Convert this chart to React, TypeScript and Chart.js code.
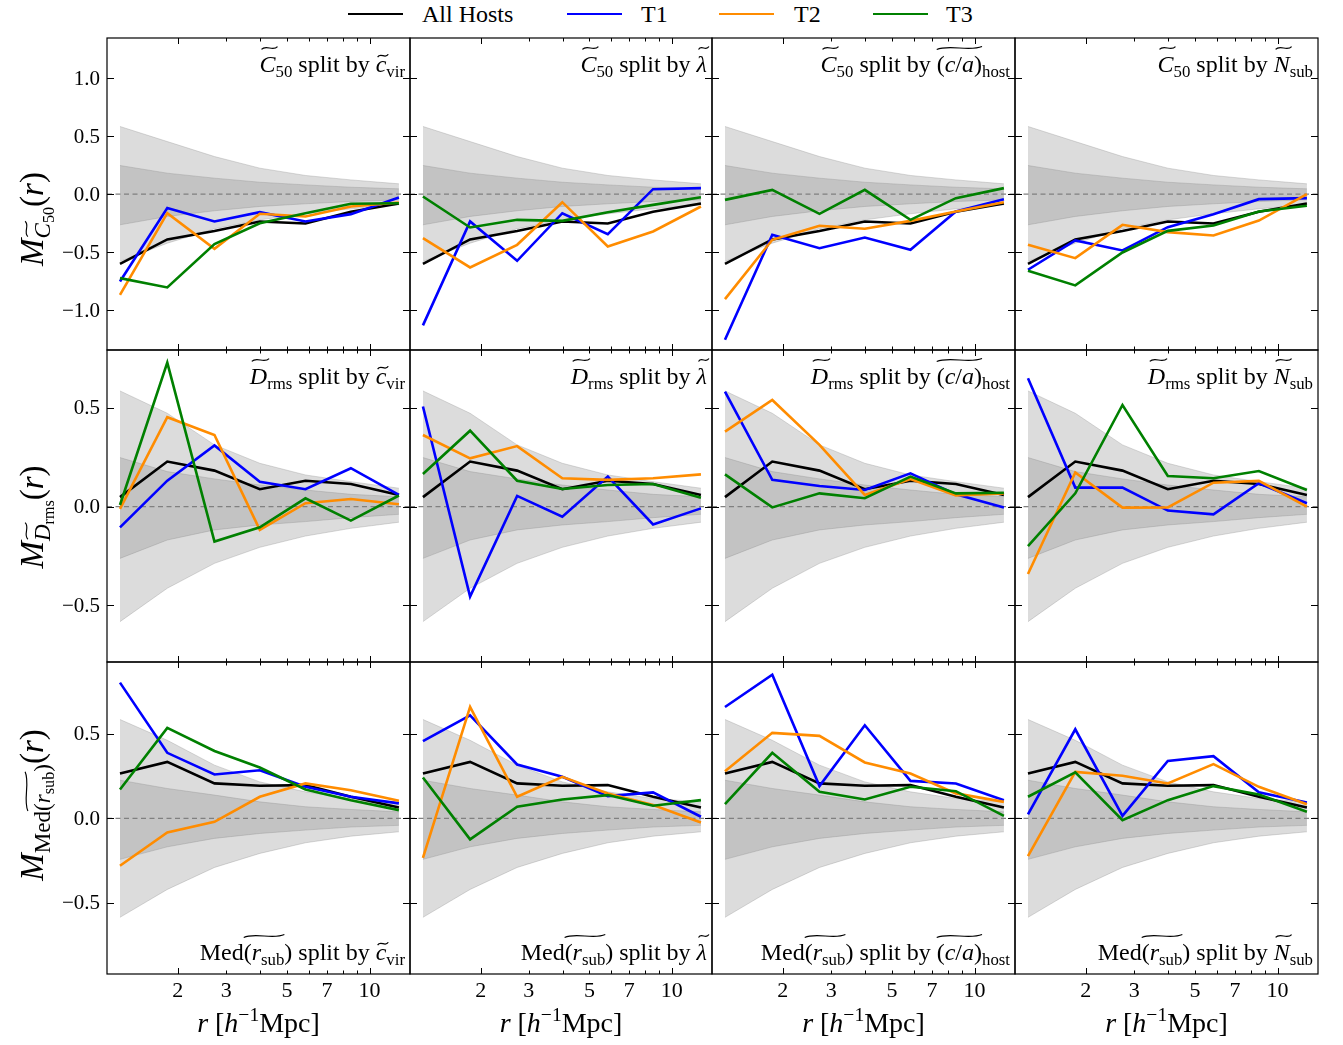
import React, { useEffect, useRef } from "react";
import { Chart, registerables } from "chart.js";
Chart.register(...registerables);

// ---------- data ----------
const R_BINS = [1.23, 1.83, 2.72, 3.98, 5.84, 8.55, 12.8];
const X_TICKS = [2, 3, 4, 5, 6, 7, 8, 9, 10];
const X_TICK_LABELS = [2, 3, 5, 7, 10];
const X_MIN = 1.103;
const X_MAX = 14.05;

const Y_TICKS_C50 = [-1, -0.5, 0, 0.5, 1];
const Y_TICKS_DRMS = [-0.5, 0, 0.5];
const Y_TICKS_MED = [-0.5, 0, 0.5];

// Row 1: C50
const ALL_C50 = [-0.6, -0.39, -0.318, -0.235, -0.252, -0.152, -0.08];
const BAND_OUT_HI_C50 = [0.583, 0.453, 0.324, 0.224, 0.161, 0.123, 0.089];
const BAND_OUT_LO_C50 = [-0.579, -0.422, -0.298, -0.221, -0.169, -0.126, -0.092];
const BAND_IN_HI_C50 = [0.247, 0.181, 0.138, 0.103, 0.08, 0.06, 0.046];
const BAND_IN_LO_C50 = [-0.264, -0.192, -0.143, -0.106, -0.083, -0.063, -0.049];
const C50_CVIR_T1 = [-0.752, -0.12, -0.235, -0.155, -0.235, -0.172, -0.029];
const C50_CVIR_T2 = [-0.867, -0.164, -0.471, -0.169, -0.192, -0.106, -0.072];
const C50_CVIR_T3 = [-0.723, -0.803, -0.43, -0.25, -0.164, -0.083, -0.078];
const C50_LAM_T1 = [-1.13, -0.235, -0.574, -0.164, -0.344, 0.043, 0.052];
const C50_LAM_T2 = [-0.379, -0.631, -0.436, -0.069, -0.45, -0.321, -0.106];
const C50_LAM_T3 = [-0.02, -0.287, -0.221, -0.23, -0.155, -0.092, -0.026];
const C50_CA_T1 = [-1.254, -0.35, -0.465, -0.373, -0.479, -0.149, -0.043];
const C50_CA_T2 = [-0.904, -0.393, -0.272, -0.298, -0.23, -0.149, -0.069];
const C50_CA_T3 = [-0.049, 0.037, -0.169, 0.037, -0.221, -0.034, 0.052];
const C50_NSUB_T1 = [-0.651, -0.399, -0.485, -0.284, -0.172, -0.043, -0.034];
const C50_NSUB_T2 = [-0.436, -0.551, -0.264, -0.327, -0.356, -0.227, 0.0];
const C50_NSUB_T3 = [-0.66, -0.786, -0.502, -0.316, -0.27, -0.149, -0.1];

// Row 2: Drms
const ALL_DRMS = [0.048, 0.228, 0.182, 0.088, 0.131, 0.114, 0.059];
const BAND_OUT_HI_DRMS = [0.585, 0.472, 0.312, 0.219, 0.16, 0.126, 0.093];
const BAND_OUT_LO_DRMS = [-0.582, -0.413, -0.287, -0.206, -0.149, -0.11, -0.079];
const BAND_IN_HI_DRMS = [0.248, 0.177, 0.14, 0.109, 0.084, 0.062, 0.05];
const BAND_IN_LO_DRMS = [-0.262, -0.169, -0.118, -0.093, -0.076, -0.056, -0.039];
const DRMS_CVIR_T1 = [-0.105, 0.131, 0.309, 0.126, 0.088, 0.194, 0.059];
const DRMS_CVIR_T2 = [-0.012, 0.452, 0.362, -0.118, 0.017, 0.038, 0.012];
const DRMS_CVIR_T3 = [0.008, 0.728, -0.177, -0.105, 0.042, -0.071, 0.056];
const DRMS_LAM_T1 = [0.506, -0.455, 0.054, -0.051, 0.152, -0.09, -0.009];
const DRMS_LAM_T2 = [0.362, 0.244, 0.306, 0.143, 0.135, 0.143, 0.163];
const DRMS_LAM_T3 = [0.165, 0.384, 0.131, 0.089, 0.109, 0.114, 0.045];
const DRMS_CA_T1 = [0.582, 0.135, 0.104, 0.084, 0.168, 0.062, -0.005];
const DRMS_CA_T2 = [0.379, 0.539, 0.312, 0.059, 0.14, 0.056, 0.067];
const DRMS_CA_T3 = [0.163, -0.004, 0.067, 0.042, 0.152, 0.067, 0.07];
const DRMS_NSUB_T1 = [0.649, 0.096, 0.096, -0.02, -0.039, 0.118, 0.017];
const DRMS_NSUB_T2 = [-0.341, 0.173, -0.005, -0.004, 0.121, 0.13, 0.0];
const DRMS_NSUB_T3 = [-0.2, 0.067, 0.514, 0.155, 0.143, 0.18, 0.084];

// Row 3: Med(r_sub)
const ALL_MED = [0.266, 0.334, 0.207, 0.193, 0.197, 0.128, 0.065];
const BAND_OUT_HI_MED = [0.585, 0.462, 0.315, 0.216, 0.157, 0.118, 0.098];
const BAND_OUT_LO_MED = [-0.585, -0.42, -0.29, -0.207, -0.144, -0.105, -0.079];
const BAND_IN_HI_MED = [0.226, 0.177, 0.138, 0.098, 0.069, 0.053, 0.039];
const BAND_IN_LO_MED = [-0.242, -0.168, -0.118, -0.089, -0.069, -0.051, -0.041];
const MED_CVIR_T1 = [0.803, 0.388, 0.26, 0.285, 0.187, 0.128, 0.089];
const MED_CVIR_T2 = [-0.28, -0.083, -0.02, 0.128, 0.207, 0.167, 0.104];
const MED_CVIR_T3 = [0.171, 0.535, 0.399, 0.301, 0.171, 0.108, 0.049];
const MED_LAM_T1 = [0.457, 0.61, 0.319, 0.246, 0.132, 0.154, 0.01];
const MED_LAM_T2 = [-0.233, 0.659, 0.128, 0.246, 0.148, 0.079, -0.024];
const MED_LAM_T3 = [0.242, -0.124, 0.069, 0.112, 0.138, 0.075, 0.108];
const MED_CA_T1 = [0.659, 0.85, 0.191, 0.551, 0.222, 0.207, 0.108];
const MED_CA_T2 = [0.279, 0.506, 0.488, 0.331, 0.266, 0.148, 0.098];
const MED_CA_T3 = [0.084, 0.388, 0.157, 0.112, 0.187, 0.161, 0.015];
const MED_NSUB_T1 = [0.024, 0.527, 0.015, 0.34, 0.368, 0.154, 0.094];
const MED_NSUB_T2 = [-0.223, 0.275, 0.252, 0.207, 0.321, 0.187, 0.084];
const MED_NSUB_T3 = [0.128, 0.272, -0.01, 0.108, 0.191, 0.142, 0.039];

const SERIES_NAMES = ["All Hosts", "T1", "T2", "T3"];
const SERIES_COLORS = ["#000000", "#0000ff", "#ff8c00", "#008000"];

// ---------- layout ----------
const XS = [107, 410, 712, 1015, 1318];
const YS = [38, 350, 662, 974];
const Y_RANGES = [
  [-1.342, 1.345],
  [-0.786, 0.792],
  [-0.92, 0.925],
];
const Y_TITLE_CENTERS = [219, 517, 805];
const PL = 107, PR = 12, PT = 10, PB = 75;
const FONT = '"Liberation Serif", "DejaVu Serif", serif';

type Seg = { t: string; i?: boolean; s?: number; p?: boolean; tg?: number; th?: number };

function segSize(seg: Seg, size: number) {
  if (seg.p) return size * 0.7;
  const lvl = seg.s || 0;
  return size * Math.pow(0.7, lvl);
}
function segFont(seg: Seg, size: number) {
  return `${seg.i ? "italic " : ""}${segSize(seg, size)}px ${FONT}`;
}
function drawTilde(ctx: CanvasRenderingContext2D, x0: number, x1: number, y: number, amp: number) {
  const w = x1 - x0;
  ctx.beginPath();
  ctx.moveTo(x0, y + amp);
  ctx.bezierCurveTo(x0 + w * 0.28, y - amp * 2.6, x0 + w * 0.72, y + amp * 2.6, x1, y - amp);
  ctx.stroke();
}
function drawRich(ctx: CanvasRenderingContext2D, segs: Seg[], x: number, y: number, size: number, align: string) {
  let total = 0;
  for (const s of segs) {
    ctx.font = segFont(s, size);
    total += ctx.measureText(s.t).width;
  }
  let cx = align === "right" ? x - total : align === "center" ? x - total / 2 : x;
  ctx.textAlign = "left";
  ctx.textBaseline = "alphabetic";
  const groups: Record<number, { x0: number; x1: number; top: number; italic: boolean; sz: number }> = {};
  for (const s of segs) {
    ctx.font = segFont(s, size);
    const w = ctx.measureText(s.t).width;
    const lvl = s.s || 0;
    let dy = 0;
    if (lvl >= 1) dy += size * 0.2;
    if (lvl >= 2) dy += size * 0.7 * 0.2;
    if (s.p) dy = -size * 0.38;
    ctx.fillText(s.t, cx, y + dy);
    if (s.tg !== undefined) {
      const sz = segSize(s, size);
      const top = y + dy - sz * (s.th ?? 0.85);
      const g = groups[s.tg];
      if (!g) groups[s.tg] = { x0: cx, x1: cx + w, top, italic: !!s.i, sz };
      else {
        g.x1 = cx + w;
        g.top = Math.min(g.top, top);
        g.sz = Math.max(g.sz, sz);
      }
    }
    cx += w;
  }
  for (const k of Object.keys(groups)) {
    const g = groups[Number(k)];
    ctx.lineWidth = Math.max(0.9, g.sz * 0.05);
    const sh = g.italic ? g.sz * 0.08 : 0;
    drawTilde(ctx, g.x0 + sh, g.x1 + sh, g.top - g.sz * 0.08, g.sz * 0.06);
  }
}

const ROW_PREFIX: Seg[][] = [
  [{ t: "C", i: true, tg: 0, th: 0.92 }, { t: "50", s: 1 }],
  [{ t: "D", i: true, tg: 0, th: 0.92 }, { t: "rms", s: 1 }],
  [{ t: "Med" }, { t: "(", tg: 0, th: 0.92 }, { t: "r", i: true, tg: 0 }, { t: "sub", s: 1, tg: 0 }, { t: ")" }],
];
const COL_SUFFIX: Seg[][] = [
  [{ t: "c", i: true, tg: 1, th: 0.6 }, { t: "vir", s: 1 }],
  [{ t: "λ", i: true, tg: 1, th: 0.92 }],
  [{ t: "(", tg: 1, th: 0.92 }, { t: "c", i: true, tg: 1 }, { t: "/", tg: 1 }, { t: "a", i: true, tg: 1 }, { t: ")", tg: 1 }, { t: "host", s: 1 }],
  [{ t: "N", i: true, tg: 1, th: 0.92 }, { t: "sub", s: 1 }],
];
const Y_TITLES: Seg[][] = [
  [{ t: "M", i: true }, { t: "C", i: true, s: 1, tg: 0, th: 0.92 }, { t: "50", s: 2 }, { t: "(" }, { t: "r", i: true }, { t: ")" }],
  [{ t: "M", i: true }, { t: "D", i: true, s: 1, tg: 0, th: 0.92 }, { t: "rms", s: 2 }, { t: "(" }, { t: "r", i: true }, { t: ")" }],
  [{ t: "M", i: true }, { t: "Med", s: 1 }, { t: "(", s: 1, tg: 0, th: 0.92 }, { t: "r", i: true, s: 1, tg: 0 }, { t: "sub", s: 2, tg: 0 }, { t: ")", s: 1 }, { t: "(" }, { t: "r", i: true }, { t: ")" }],
];
const X_TITLE: Seg[] = [{ t: "r", i: true }, { t: " [" }, { t: "h", i: true }, { t: "−1", p: true }, { t: "Mpc]" }];

const ROW_Y_TICKS = [Y_TICKS_C50, Y_TICKS_DRMS, Y_TICKS_MED];
const ROW_ALL = [ALL_C50, ALL_DRMS, ALL_MED];
const ROW_BANDS = [
  [BAND_OUT_HI_C50, BAND_OUT_LO_C50, BAND_IN_HI_C50, BAND_IN_LO_C50],
  [BAND_OUT_HI_DRMS, BAND_OUT_LO_DRMS, BAND_IN_HI_DRMS, BAND_IN_LO_DRMS],
  [BAND_OUT_HI_MED, BAND_OUT_LO_MED, BAND_IN_HI_MED, BAND_IN_LO_MED],
];
const PANEL_SERIES = [
  [
    [C50_CVIR_T1, C50_CVIR_T2, C50_CVIR_T3],
    [C50_LAM_T1, C50_LAM_T2, C50_LAM_T3],
    [C50_CA_T1, C50_CA_T2, C50_CA_T3],
    [C50_NSUB_T1, C50_NSUB_T2, C50_NSUB_T3],
  ],
  [
    [DRMS_CVIR_T1, DRMS_CVIR_T2, DRMS_CVIR_T3],
    [DRMS_LAM_T1, DRMS_LAM_T2, DRMS_LAM_T3],
    [DRMS_CA_T1, DRMS_CA_T2, DRMS_CA_T3],
    [DRMS_NSUB_T1, DRMS_NSUB_T2, DRMS_NSUB_T3],
  ],
  [
    [MED_CVIR_T1, MED_CVIR_T2, MED_CVIR_T3],
    [MED_LAM_T1, MED_LAM_T2, MED_LAM_T3],
    [MED_CA_T1, MED_CA_T2, MED_CA_T3],
    [MED_NSUB_T1, MED_NSUB_T2, MED_NSUB_T3],
  ],
];

const pts = (vals: number[]) => vals.map((v, i) => ({ x: R_BINS[i], y: v }));
const fmt = (v: number) => (v < 0 ? "−" : "") + Math.abs(v).toFixed(1);

function Panel({ row, col }: { row: number; col: number }) {
  const ref = useRef<HTMLCanvasElement>(null);
  const w = XS[col + 1] - XS[col];
  const h = YS[row + 1] - YS[row];
  const cw = w + PL + PR;
  const ch = h + PT + PB;
  useEffect(() => {
    const bands = ROW_BANDS[row];
    const bandFill = "rgba(128,128,128,0.28)";
    const bandEdge = "rgba(150,150,150,0.35)";
    const series = [ROW_ALL[row], ...PANEL_SERIES[row][col]];
    const datasets: any[] = [
      { data: pts(bands[0]), fill: "+1", backgroundColor: bandFill, borderColor: bandEdge, borderWidth: 1, order: 10 },
      { data: pts(bands[1]), fill: false, borderColor: bandEdge, borderWidth: 1, order: 10 },
      { data: pts(bands[2]), fill: "+1", backgroundColor: bandFill, borderColor: bandEdge, borderWidth: 1, order: 10 },
      { data: pts(bands[3]), fill: false, borderColor: bandEdge, borderWidth: 1, order: 10 },
    ];
    series.forEach((vals, k) => {
      datasets.push({
        label: SERIES_NAMES[k],
        data: pts(vals),
        borderColor: SERIES_COLORS[k],
        borderWidth: 2.6,
        fill: false,
        order: 4 - k,
      });
    });
    const yTicks = ROW_Y_TICKS[row];
    const plugin = {
      id: "panelDeco",
      afterDatasetDraw(chart: any, args: any) {
        if (args.index !== 0) return;
        const { ctx, chartArea: a, scales } = chart;
        const py = scales.y.getPixelForValue(0);
        ctx.save();
        ctx.strokeStyle = "#808080";
        ctx.lineWidth = 1.3;
        ctx.setLineDash([5, 3.5]);
        ctx.beginPath();
        ctx.moveTo(a.left, py);
        ctx.lineTo(a.right, py);
        ctx.stroke();
        ctx.restore();
      },
      afterDraw(chart: any) {
        const { ctx, chartArea: a, scales } = chart;
        ctx.save();
        ctx.strokeStyle = "#000";
        ctx.fillStyle = "#000";
        ctx.lineWidth = 1.2;
        ctx.strokeRect(a.left, a.top, a.right - a.left, a.bottom - a.top);
        ctx.lineWidth = 1;
        ctx.beginPath();
        for (const t of X_TICKS) {
          const px = Math.round(scales.x.getPixelForValue(t)) + 0.5;
          const len = t === 2 || t === 10 ? 6 : 3.5;
          ctx.moveTo(px, a.bottom);
          ctx.lineTo(px, a.bottom - len);
          ctx.moveTo(px, a.top);
          ctx.lineTo(px, a.top + len);
        }
        for (const v of yTicks) {
          const py = Math.round(scales.y.getPixelForValue(v)) + 0.5;
          ctx.moveTo(a.left, py);
          ctx.lineTo(a.left + 7, py);
          ctx.moveTo(a.right, py);
          ctx.lineTo(a.right - 7, py);
        }
        ctx.stroke();
        // tick labels
        ctx.font = `21px ${FONT}`;
        if (col === 0) {
          ctx.textAlign = "right";
          ctx.textBaseline = "middle";
          for (const v of yTicks) {
            ctx.fillText(fmt(v), a.left - 7, scales.y.getPixelForValue(v) + 1);
          }
          ctx.save();
          ctx.translate(a.left - 64, Y_TITLE_CENTERS[row] - YS[row] + a.top);
          ctx.rotate(-Math.PI / 2);
          drawRich(ctx, Y_TITLES[row], 0, 0, 33, "center");
          ctx.restore();
        }
        if (row === 2) {
          ctx.font = `22px ${FONT}`;
          ctx.textAlign = "center";
          ctx.textBaseline = "top";
          for (const t of X_TICK_LABELS) {
            ctx.fillText(String(t), scales.x.getPixelForValue(t), a.bottom + 6);
          }
          drawRich(ctx, X_TITLE, (a.left + a.right) / 2, a.bottom + 58, 28, "center");
        }
        // annotation
        const ann: Seg[] = [...ROW_PREFIX[row], { t: " split by " }, ...COL_SUFFIX[col]];
        const ay = row === 2 ? a.bottom - 14 : a.top + 34;
        drawRich(ctx, ann, a.right - 5, ay, 24, "right");
        ctx.restore();
      },
    };
    const chart = new Chart(ref.current as HTMLCanvasElement, {
      type: "line",
      data: { datasets },
      options: {
        responsive: false,
        animation: false,
        devicePixelRatio: 1,
        events: [],
        layout: { padding: { left: PL, right: PR, top: PT, bottom: PB } },
        elements: { point: { radius: 0 }, line: { tension: 0 } },
        plugins: { legend: { display: false }, tooltip: { enabled: false } },
        scales: {
          x: { type: "logarithmic", min: X_MIN, max: X_MAX, display: false },
          y: { type: "linear", min: Y_RANGES[row][0], max: Y_RANGES[row][1], display: false },
        },
      },
      plugins: [plugin],
    } as any);
    return () => chart.destroy();
  }, [row, col]);
  return (
    <canvas
      ref={ref}
      width={cw}
      height={ch}
      style={{ position: "absolute", left: XS[col] - PL, top: YS[row] - PT, width: cw, height: ch }}
    />
  );
}

const LEGEND_POS = [
  { line: 348, text: 422 },
  { line: 567, text: 641 },
  { line: 719, text: 794 },
  { line: 873, text: 946 },
];

export default function App() {
  const panels = [];
  for (let r = 0; r < 3; r++) for (let c = 0; c < 4; c++) panels.push(<Panel key={`${r}-${c}`} row={r} col={c} />);
  return (
    <div style={{ position: "absolute", left: 0, top: 0, width: 1343, height: 1045, background: "#fff", fontFamily: FONT }}>
      {SERIES_NAMES.map((name, k) => (
        <React.Fragment key={name}>
          <div style={{ position: "absolute", left: LEGEND_POS[k].line, top: 12.5, width: 55, height: 2.6, background: SERIES_COLORS[k] }} />
          <div style={{ position: "absolute", left: LEGEND_POS[k].text, top: 0, fontSize: 24, lineHeight: "28px", color: "#000", whiteSpace: "nowrap" }}>{name}</div>
        </React.Fragment>
      ))}
      {panels}
    </div>
  );
}
